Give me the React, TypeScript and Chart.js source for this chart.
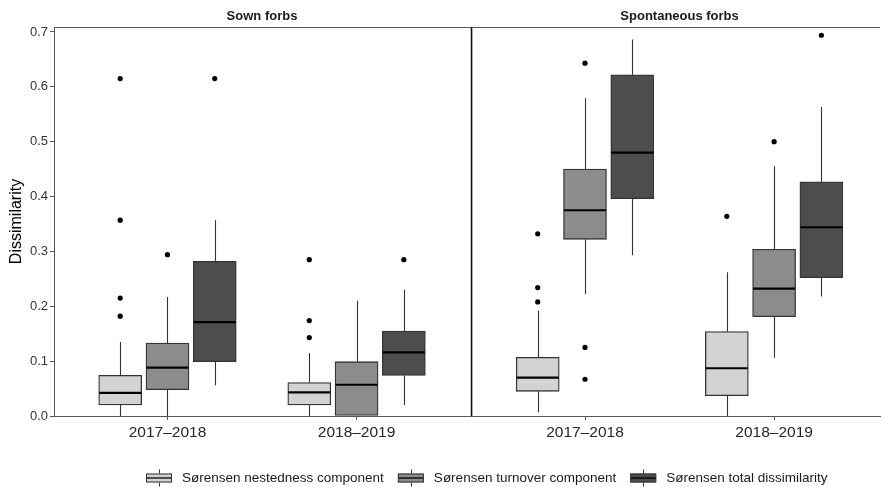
import React, { useEffect, useRef } from "react";
import { Chart, registerables } from "chart.js";

Chart.register(...registerables);

// ---------- data ----------
const panels = ["Sown forbs", "Spontaneous forbs"];
const periods = ["2017–2018", "2018–2019"];
const components = [
  "Sørensen nestedness component",
  "Sørensen turnover component",
  "Sørensen total dissimilarity",
];
const yTicks = [0, 0.1, 0.2, 0.3, 0.4, 0.5, 0.6, 0.7];

// order of groups: Sown 2017–2018, Sown 2018–2019, Spontaneous 2017–2018, Spontaneous 2018–2019
const nestedLow = [0.0, 0.0, 0.007, 0.0];
const nestedQ1 = [0.02, 0.02, 0.045, 0.037];
const nestedMedian = [0.042, 0.043, 0.07, 0.087];
const nestedQ3 = [0.074, 0.061, 0.107, 0.154];
const nestedHigh = [0.135, 0.115, 0.192, 0.262];
const nestedOutliers = [[0.615, 0.357, 0.215, 0.182], [0.285, 0.174, 0.143], [0.332, 0.234, 0.208], [0.364]];

const turnoverLow = [0.0, 0.0, 0.222, 0.106];
const turnoverQ1 = [0.048, 0.0, 0.322, 0.181];
const turnoverMedian = [0.088, 0.057, 0.375, 0.232];
const turnoverQ3 = [0.133, 0.099, 0.45, 0.304];
const turnoverHigh = [0.217, 0.21, 0.579, 0.455];
const turnoverOutliers = [[0.294], [], [0.643, 0.125, 0.067], [0.5]];

const totalLow = [0.056, 0.02, 0.293, 0.218];
const totalQ1 = [0.099, 0.074, 0.396, 0.252];
const totalMedian = [0.171, 0.116, 0.48, 0.344];
const totalQ3 = [0.282, 0.155, 0.622, 0.427];
const totalHigh = [0.357, 0.23, 0.686, 0.563];
const totalOutliers = [[0.615], [0.285], [], [0.694]];

// ---------- styling / layout ----------
const FONT = "'Liberation Sans', Arial, Helvetica, sans-serif";
const fills = ["#d3d3d3", "#8c8c8c", "#4d4d4d"];
const OUTLINE = "#333333";
const AXIS = "#555555";
const PANEL_STARTS = [0, 2.208];
const PANEL_WIDTH = 2.2;
const X_MAX = 4.368;
const BOX_OFFSET = 0.25;

const stats = [
  { low: nestedLow, q1: nestedQ1, med: nestedMedian, q3: nestedQ3, high: nestedHigh, out: nestedOutliers },
  { low: turnoverLow, q1: turnoverQ1, med: turnoverMedian, q3: turnoverQ3, high: turnoverHigh, out: turnoverOutliers },
  { low: totalLow, q1: totalQ1, med: totalMedian, q3: totalQ3, high: totalHigh, out: totalOutliers },
];

const groupCenters: number[] = [];
PANEL_STARTS.forEach((s) => periods.forEach((_, j) => groupCenters.push(s + 0.6 + j)));

const boxPlugin = {
  id: "boxplotParts",
  beforeDatasetsDraw(chart: any) {
    const { ctx, scales } = chart;
    const y = scales.y;
    ctx.save();
    ctx.strokeStyle = OUTLINE;
    ctx.lineWidth = 1.1;
    stats.forEach((s, d) => {
      const meta = chart.getDatasetMeta(d);
      meta.data.forEach((el: any, i: number) => {
        const x = Math.round(el.x) + 0.5;
        ctx.beginPath();
        ctx.moveTo(x, y.getPixelForValue(s.low[i]));
        ctx.lineTo(x, y.getPixelForValue(s.q1[i]));
        ctx.moveTo(x, y.getPixelForValue(s.q3[i]));
        ctx.lineTo(x, y.getPixelForValue(s.high[i]));
        ctx.stroke();
      });
    });
    ctx.restore();
  },
  afterDatasetsDraw(chart: any) {
    const { ctx, chartArea, scales } = chart;
    const y = scales.y;
    const x = scales.x;
    ctx.save();
    // medians
    ctx.strokeStyle = "#000";
    ctx.lineWidth = 2.2;
    stats.forEach((s, d) => {
      const meta = chart.getDatasetMeta(d);
      meta.data.forEach((el: any, i: number) => {
        const py = y.getPixelForValue(s.med[i]);
        ctx.beginPath();
        ctx.moveTo(el.x - el.width / 2 + 0.5, py);
        ctx.lineTo(el.x + el.width / 2 - 0.5, py);
        ctx.stroke();
      });
    });
    // top border line
    ctx.strokeStyle = AXIS;
    ctx.lineWidth = 1;
    ctx.beginPath();
    ctx.moveTo(chartArea.left, chartArea.top + 0.5);
    ctx.lineTo(chartArea.right, chartArea.top + 0.5);
    ctx.stroke();
    // panel divider (right panel axis line)
    const dx = x.getPixelForValue(PANEL_STARTS[1]);
    ctx.strokeStyle = "#111";
    ctx.lineWidth = 1.6;
    ctx.beginPath();
    ctx.moveTo(dx, chartArea.top);
    ctx.lineTo(dx, chartArea.bottom);
    ctx.stroke();
    ctx.restore();
  },
  afterDraw(chart: any) {
    const { ctx, scales } = chart;
    const x = scales.x;
    ctx.save();
    // facet titles
    ctx.fillStyle = "#1a1a1a";
    ctx.font = `bold 13px ${FONT}`;
    ctx.textAlign = "center";
    ctx.textBaseline = "middle";
    panels.forEach((p, k) => {
      ctx.fillText(p, x.getPixelForValue(PANEL_STARTS[k] + PANEL_WIDTH / 2), 16.5);
    });
    // legend
    const legendFont = `13.5px ${FONT}`;
    ctx.font = legendFont;
    const keyW = 26;
    const keyGap = 10;
    const itemGap = 14;
    const widths = components.map((c) => ctx.measureText(c).width);
    let lx = 146;
    const ly = 478;
    components.forEach((c, k) => {
      const bh = 9;
      const cx = Math.round(lx + keyW / 2) + 0.5;
      ctx.strokeStyle = OUTLINE;
      ctx.lineWidth = 1;
      ctx.beginPath();
      ctx.moveTo(cx, ly - bh / 2 - 4);
      ctx.lineTo(cx, ly - bh / 2);
      ctx.moveTo(cx, ly + bh / 2);
      ctx.lineTo(cx, ly + bh / 2 + 4);
      ctx.stroke();
      ctx.fillStyle = fills[k];
      ctx.fillRect(lx, ly - bh / 2, keyW, bh);
      ctx.strokeRect(lx + 0.5, ly - bh / 2 + 0.5, keyW - 1, bh - 1);
      ctx.strokeStyle = "#000";
      ctx.lineWidth = 1.3;
      ctx.beginPath();
      ctx.moveTo(lx + 1, ly);
      ctx.lineTo(lx + keyW - 1, ly);
      ctx.stroke();
      ctx.fillStyle = "#1a1a1a";
      ctx.font = legendFont;
      ctx.textAlign = "left";
      ctx.textBaseline = "middle";
      ctx.fillText(c, lx + keyW + keyGap, ly);
      lx += keyW + keyGap + widths[k] + itemGap;
    });
    ctx.restore();
  },
};

export default function App() {
  const ref = useRef<HTMLCanvasElement | null>(null);

  useEffect(() => {
    document.body.style.margin = "0";
    if (!ref.current) return;
    Chart.defaults.font.family = FONT;

    const barSets = stats.map((s, d) => ({
      type: "bar" as const,
      label: components[d],
      data: groupCenters.map((gc, i) => ({ x: gc + (d - 1) * BOX_OFFSET, y: [s.q1[i], s.q3[i]] })),
      backgroundColor: fills[d],
      borderColor: OUTLINE,
      borderWidth: 1.3,
      borderSkipped: false,
      barThickness: 43,
      grouped: false,
      order: 2,
    }));

    const outlierPoints: { x: number; y: number }[] = [];
    stats.forEach((s, d) => {
      s.out.forEach((vals, i) => {
        vals.forEach((v) => outlierPoints.push({ x: groupCenters[i] + (d - 1) * BOX_OFFSET, y: v }));
      });
    });

    const chart = new Chart(ref.current, {
      type: "bar",
      data: {
        datasets: [
          ...barSets,
          {
            type: "scatter" as const,
            label: "outliers",
            data: outlierPoints,
            pointRadius: 2.6,
            pointBackgroundColor: "#000",
            pointBorderWidth: 0,
            order: 1,
          } as any,
        ],
      },
      options: {
        animation: false,
        responsive: true,
        maintainAspectRatio: false,
        events: [],
        layout: { padding: { top: 27, right: 0, bottom: 41, left: 0 } },
        plugins: { legend: { display: false }, tooltip: { enabled: false } },
        scales: {
          x: {
            type: "linear",
            min: 0,
            max: X_MAX,
            offset: false,
            afterBuildTicks: (s: any) => {
              s.ticks = groupCenters.map((v) => ({ value: v }));
            },
            afterFit: (s: any) => {
              s.height = 30;
            },
            ticks: {
              autoSkip: false,
              maxRotation: 0,
              padding: 3,
              color: "#262626",
              font: { size: 15.5, family: FONT },
              callback: (_v: any, i: number) => periods[i % periods.length],
            },
            grid: { display: true, drawOnChartArea: false, drawTicks: true, tickLength: 4, color: AXIS, offset: false },
            border: { display: true, color: AXIS, width: 1 },
          },
          y: {
            type: "linear",
            min: 0,
            max: 0.709,
            afterBuildTicks: (s: any) => {
              s.ticks = yTicks.map((v) => ({ value: v }));
            },
            afterFit: (s: any) => {
              s.width = 54;
            },
            ticks: {
              padding: 2,
              color: "#333333",
              font: { size: 13, family: FONT },
              callback: (v: any) => Number(v).toFixed(1),
            },
            grid: { display: true, drawOnChartArea: false, drawTicks: true, tickLength: 4, color: AXIS },
            border: { display: true, color: AXIS, width: 1 },
            title: {
              display: true,
              text: "Dissimilarity",
              color: "#000",
              font: { size: 16, family: FONT },
              padding: { top: 7, bottom: 0 },
            },
          },
        },
      },
      plugins: [boxPlugin],
    } as any);

    return () => chart.destroy();
  }, []);

  return (
    <div style={{ position: "relative", width: "884px", height: "487px" }}>
      <canvas ref={ref} />
    </div>
  );
}
